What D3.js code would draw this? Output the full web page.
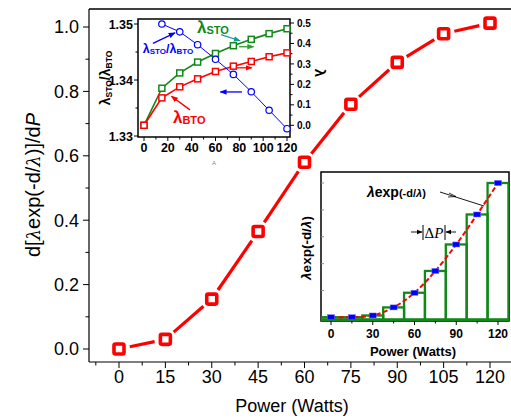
<!DOCTYPE html>
<html><head><meta charset="utf-8">
<script src="https://cdn.jsdelivr.net/npm/d3@7"></script>
<style>body{margin:0;background:#fff}svg{display:block}</style>
</head><body><svg id="c" width="511" height="419"></svg>
<script>
// ---------- data ----------
const power = [0,15,30,45,60,75,90,105,120];
const mainValues = [0.0,0.03,0.155,0.365,0.58,0.76,0.89,0.979,1.012];
const mainYTicks = [0,0.2,0.4,0.6,0.8,1.0];
const mainXTicks = [0,15,30,45,60,75,90,105,120];

const lambdaSTO = [0.0,0.181,0.256,0.309,0.351,0.389,0.420,0.448,0.472];
const lambdaBTO = [0.0,0.134,0.188,0.227,0.263,0.289,0.312,0.335,0.354];
const ratioPower = [15,30,45,60,75,90,105,120];
const ratio = [1.3500,1.3486,1.3463,1.3437,1.3410,1.3379,1.3346,1.3313];
const inset1XTicks = [0,20,40,60,80,100,120];
const inset1LeftTicks = [1.33,1.34,1.35];
const inset1RightTicks = [0,0.1,0.2,0.3,0.4,0.5];

const lexpValues = [0.002,0.002,0.015,0.075,0.184,0.346,0.543,0.766,1.0];
const deltaP = 15;
const inset2XTicks = [0,30,60,90,120];

// ---------- setup ----------
const svg = d3.select('#c');
const FONT = '"Liberation Sans", Arial, sans-serif';
const RED = '#ff0000', GREEN = '#12881a', BLUE = '#0000ff';

const defs = svg.append('defs');
function arrowMarker(id, color, size){
  defs.append('marker').attr('id', id).attr('viewBox','0 0 10 10').attr('refX',9).attr('refY',5)
    .attr('markerWidth', size).attr('markerHeight', size).attr('orient','auto-start-reverse')
    .attr('markerUnits','userSpaceOnUse')
    .append('path').attr('d','M0,1 L10,5 L0,9 z').attr('fill', color);
}
arrowMarker('aBlue', BLUE, 7);
arrowMarker('aTeal', '#119999', 7);
arrowMarker('aGreen', '#2aa02a', 7);
arrowMarker('aRed', RED, 7);
arrowMarker('aBlack', '#000', 6);

// ---------- main chart ----------
const x = d3.scaleLinear().domain([0,120]).range([119,490]);
const y = d3.scaleLinear().domain([0,1]).range([349,27]);
const L = 89, T = 9, B = 362, R = 515;

const g = svg.append('g');
g.append('line').attr('x1',L).attr('x2',L).attr('y1',T).attr('y2',B).attr('stroke','#000').attr('stroke-width',1.2);
g.append('line').attr('x1',L).attr('x2',R).attr('y1',B).attr('y2',B).attr('stroke','#000').attr('stroke-width',1.2);
g.append('line').attr('x1',L).attr('x2',R).attr('y1',T).attr('y2',T).attr('stroke','#000').attr('stroke-width',1.6);

// y ticks
d3.range(0, 11).forEach(i => {
  const v = i/10, major = i % 2 === 0;
  g.append('line').attr('x1',L).attr('x2',L-(major?6:3.5)).attr('y1',y(v)).attr('y2',y(v)).attr('stroke','#000');
});
g.selectAll('.ytl').data(mainYTicks).enter().append('text')
  .attr('x',79).attr('y',d=>y(d)).attr('dy','0.36em').attr('text-anchor','end')
  .attr('font-family',FONT).attr('font-size',18).text(d=>d.toFixed(1));
// x ticks
d3.range(-7.5, 128, 7.5).forEach(v => {
  const major = Math.abs(v % 15) < 1e-6;
  const px = x(v); if (px < L || px > 511) return;
  g.append('line').attr('x1',px).attr('x2',px).attr('y1',B).attr('y2',B+(major?6:3.5)).attr('stroke','#000');
});
g.selectAll('.xtl').data(mainXTicks).enter().append('text')
  .attr('x',d=>x(d)).attr('y',383).attr('text-anchor','middle')
  .attr('font-family',FONT).attr('font-size',18).text(d=>d);
// axis titles
g.append('text').attr('x',292).attr('y',412).attr('text-anchor','middle')
  .attr('font-family',FONT).attr('font-size',18).text('Power (Watts)');
const yt = g.append('text').attr('transform','translate(40,185) rotate(-90)').attr('text-anchor','middle')
  .attr('font-family',FONT).attr('font-size',20);
yt.append('tspan').text('d[');
yt.append('tspan').attr('font-style','italic').attr('font-family','"DejaVu Serif", serif').attr('font-size',18).text('λ');
yt.append('tspan').text('exp(-d/');
yt.append('tspan').attr('font-style','italic').attr('font-family','"DejaVu Serif", serif').attr('font-size',18).text('λ');
yt.append('tspan').text(')]/d');
yt.append('tspan').attr('font-style','italic').text('P');

// main line with gaps
const mainPts = power.map((p,i)=>[x(p), y(mainValues[i])]);
for (let i=0;i<mainPts.length-1;i++){
  const [x1,y1] = mainPts[i], [x2,y2] = mainPts[i+1];
  const dx = x2-x1, dy = y2-y1, len = Math.hypot(dx,dy), gap = 11;
  if (len <= 2*gap) continue;
  g.append('line').attr('x1',x1+dx/len*gap).attr('y1',y1+dy/len*gap)
    .attr('x2',x2-dx/len*gap).attr('y2',y2-dy/len*gap)
    .attr('stroke',RED).attr('stroke-width',3.2);
}
g.selectAll('.mm').data(power).enter().append('rect')
  .attr('x',(d)=>x(d)-5).attr('y',(d,i)=>y(mainValues[i])-5).attr('width',10).attr('height',10)
  .attr('rx',1.5).attr('fill','#fff').attr('stroke',RED).attr('stroke-width',3.6);

// ---------- inset 1 ----------
const xi = d3.scaleLinear().domain([0,120]).range([144,287]);
const yL = d3.scaleLinear().domain([1.33,1.35]).range([136,24]);
const yR = d3.scaleLinear().domain([0,0.5]).range([125.3,23]);
const i1 = svg.append('g');
const I1L = 138, I1R = 290, I1T = 19, I1B = 137;
i1.append('rect').attr('x',I1L).attr('y',I1T).attr('width',I1R-I1L).attr('height',I1B-I1T)
  .attr('fill','#fff').attr('stroke','#000').attr('stroke-width',1.5);
// left ticks
d3.range(0,5).forEach(i=>{
  const v = 1.33 + i*0.005, major = i%2===0;
  i1.append('line').attr('x1',I1L).attr('x2',I1L-(major?4:2.5)).attr('y1',yL(v)).attr('y2',yL(v)).attr('stroke','#000');
});
i1.selectAll('.lt').data(inset1LeftTicks).enter().append('text')
  .attr('x',I1L-5).attr('y',d=>yL(d)).attr('dy','0.36em').attr('text-anchor','end')
  .attr('font-family',FONT).attr('font-weight','bold').attr('font-size',12.5).text(d=>d.toFixed(2));
// right ticks
d3.range(0,11).forEach(i=>{
  const v = i*0.05, major = i%2===0;
  i1.append('line').attr('x1',I1R).attr('x2',I1R+(major?4:2.5)).attr('y1',yR(v)).attr('y2',yR(v)).attr('stroke','#000');
});
i1.selectAll('.rt').data(inset1RightTicks).enter().append('text')
  .attr('x',I1R+7).attr('y',d=>yR(d)).attr('dy','0.36em').attr('text-anchor','start')
  .attr('font-family',FONT).attr('font-weight','bold').attr('font-size',10).text(d=>d.toFixed(1));
// bottom ticks
d3.range(0,13).forEach(i=>{
  const v = i*10, major = i%2===0;
  i1.append('line').attr('x1',xi(v)).attr('x2',xi(v)).attr('y1',I1B).attr('y2',I1B+(major?4:2.5)).attr('stroke','#000');
});
i1.selectAll('.bt').data(inset1XTicks).enter().append('text')
  .attr('x',d=>xi(d)).attr('y',152).attr('text-anchor','middle')
  .attr('font-family',FONT).attr('font-weight','bold').attr('font-size',12.5).text(d=>d);
// axis titles
const lt = i1.append('text').attr('transform','translate(110,78) rotate(-90)').attr('text-anchor','middle')
  .attr('font-family',FONT).attr('font-weight','bold').attr('font-size',14);
lt.append('tspan').text('λ');
lt.append('tspan').attr('font-size',8.5).attr('dy',2).text('STO');
lt.append('tspan').attr('dy',-2).text('/λ');
lt.append('tspan').attr('font-size',8.5).attr('dy',2).text('BTO');
i1.append('text').attr('transform','translate(315,73) rotate(90)').attr('text-anchor','middle')
  .attr('font-family',FONT).attr('font-weight','bold').attr('font-size',15).text('λ');

// lines
const lineR = d3.line().x((d,i)=>xi(power[i])).y(d=>yR(d));
i1.append('path').attr('d',lineR(lambdaSTO)).attr('fill','none').attr('stroke',GREEN).attr('stroke-width',1.6);
i1.append('path').attr('d',lineR(lambdaBTO)).attr('fill','none').attr('stroke',RED).attr('stroke-width',1.6);
const lineL = d3.line().x((d,i)=>xi(ratioPower[i])).y(d=>yL(d));
i1.append('path').attr('d',lineL(ratio)).attr('fill','none').attr('stroke',BLUE).attr('stroke-width',1);
i1.selectAll('.sg').data(lambdaSTO).enter().append('rect')
  .attr('x',(d,i)=>xi(power[i])-3).attr('y',d=>yR(d)-3).attr('width',6).attr('height',6)
  .attr('fill','#fff').attr('stroke',GREEN).attr('stroke-width',1.5);
i1.selectAll('.sr').data(lambdaBTO).enter().append('rect')
  .attr('x',(d,i)=>xi(power[i])-3).attr('y',d=>yR(d)-3).attr('width',6).attr('height',6)
  .attr('fill','#fff').attr('stroke',RED).attr('stroke-width',1.5);
i1.selectAll('.cb').data(ratio).enter().append('circle')
  .attr('cx',(d,i)=>xi(ratioPower[i])).attr('cy',d=>yL(d)).attr('r',3.2)
  .attr('fill','#fff').attr('stroke',BLUE).attr('stroke-width',1.2);

// annotations inset 1
function arrow(gr, x1,y1,x2,y2,color,mk,w){
  gr.append('line').attr('x1',x1).attr('y1',y1).attr('x2',x2).attr('y2',y2)
    .attr('stroke',color).attr('stroke-width',w||1.3).attr('marker-end','url(#'+mk+')');
}
const t1 = i1.append('text').attr('x',xi(44.5)).attr('y',yR(0.452)).attr('fill',GREEN)
  .attr('font-family',FONT).attr('font-weight','bold').attr('font-size',17);
t1.append('tspan').text('λ');
t1.append('tspan').attr('font-size',11).attr('dy',1).text('STO');
const t2 = i1.append('text').attr('x',xi(24.3)).attr('y',yR(0.011)).attr('fill',RED)
  .attr('font-family',FONT).attr('font-weight','bold').attr('font-size',17);
t2.append('tspan').text('λ');
t2.append('tspan').attr('font-size',11).attr('dy',1).text('BTO');
const t3 = i1.append('text').attr('x',xi(-1)).attr('y',yR(0.354)).attr('fill',BLUE)
  .attr('font-family',FONT).attr('font-weight','bold').attr('font-size',12.5);
t3.append('tspan').text('λ');
t3.append('tspan').attr('font-size',8).attr('dy',1).text('STO');
t3.append('tspan').attr('dy',-1).text('/λ');
t3.append('tspan').attr('font-size',8).attr('dy',1).text('BTO');
arrow(i1, xi(7.5),yR(0.40), xi(26),yR(0.452), BLUE,'aBlue',1.3);
arrow(i1, xi(64.6),yR(0.443), xi(80.6),yR(0.413), '#119999','aTeal',1.2);
arrow(i1, xi(79.7),yR(0.384), xi(92),yR(0.384), '#2aa02a','aGreen',1.3);
arrow(i1, xi(78),yR(0.281), xi(90.5),yR(0.281), RED,'aRed',1.3);
arrow(i1, xi(82.2),yR(0.163), xi(64),yR(0.163), BLUE,'aBlue',1.3);
arrow(i1, xi(38.6),yR(0.075), xi(23),yR(0.142), RED,'aRed',1.5);
i1.append('text').attr('x',214).attr('y',165).attr('text-anchor','middle').attr('fill','#888')
  .attr('font-family',FONT).attr('font-size',6).text('A');

// ---------- inset 2 ----------
const xs = d3.scaleLinear().domain([0,120]).range([331,498]);
const ys = d3.scaleLinear().domain([0,1]).range([317.5,183]);
const i2 = svg.append('g');
const I2L = 321, I2R = 509, I2T = 172, I2B = 321;
i2.append('rect').attr('x',I2L).attr('y',I2T).attr('width',I2R-I2L).attr('height',I2B-I2T)
  .attr('fill','#fff').attr('stroke','#000').attr('stroke-width',1.5);
// ticks
d3.range(0,9).forEach(i=>{
  const v = i*15, major = i%2===0;
  i2.append('line').attr('x1',xs(v)).attr('x2',xs(v)).attr('y1',I2B).attr('y2',I2B+(major?4:2.5)).attr('stroke','#000');
});
d3.range(1,6).forEach(i=>{
  const v = i*0.2;
  i2.append('line').attr('x1',I2L).attr('x2',I2L+3).attr('y1',ys(v)).attr('y2',ys(v)).attr('stroke','#888');
});
i2.selectAll('.xt2').data(inset2XTicks).enter().append('text')
  .attr('x',d=>xs(d)).attr('y',338).attr('text-anchor','middle')
  .attr('font-family',FONT).attr('font-weight','bold').attr('font-size',12).text(d=>d);
i2.append('text').attr('x',413).attr('y',356).attr('text-anchor','middle')
  .attr('font-family',FONT).attr('font-weight','bold').attr('font-size',13).text('Power (Watts)');
const yt2 = i2.append('text').attr('transform','translate(311,248) rotate(-90)').attr('text-anchor','middle')
  .attr('font-family',FONT).attr('font-weight','bold').attr('font-size',13.5);
yt2.append('tspan').attr('font-style','italic').text('λ');
yt2.append('tspan').text('exp(-d/');
yt2.append('tspan').attr('font-style','italic').text('λ');
yt2.append('tspan').text(')');

// step boxes
const clipId = 'clip2';
defs.append('clipPath').attr('id',clipId).append('rect').attr('x',I2L).attr('y',I2T).attr('width',I2R-I2L).attr('height',I2B-I2T);
const boxes = i2.append('g').attr('clip-path','url(#'+clipId+')');
boxes.selectAll('.bx').data(lexpValues).enter().append('rect')
  .attr('x',(d,i)=>xs(power[i]-deltaP/2)).attr('y',d=>ys(d))
  .attr('width',xs(deltaP)-xs(0)).attr('height',d=>Math.max(0, ys(0)-ys(d)+2.5))
  .attr('fill','none').attr('stroke',GREEN).attr('stroke-width',2.3);
boxes.append('line').attr('x1',I2L).attr('x2',I2R).attr('y1',ys(0)+2).attr('y2',ys(0)+2).attr('stroke',GREEN).attr('stroke-width',2.3);
// dashed red curve
const curve = d3.line().x((d,i)=>xs(power[i])).y(d=>ys(d)).curve(d3.curveCatmullRom.alpha(0.5));
boxes.append('path').attr('d',curve(lexpValues)).attr('fill','none').attr('stroke',RED)
  .attr('stroke-width',2).attr('stroke-dasharray','5,2.5');
boxes.selectAll('.bm').data(lexpValues).enter().append('rect')
  .attr('x',(d,i)=>xs(power[i])-3.5).attr('y',d=>ys(d)-2.5).attr('width',7).attr('height',5)
  .attr('fill',BLUE).attr('stroke','#66f').attr('stroke-width',0.5);

// annotations inset 2
const t4 = i2.append('text').attr('x',367).attr('y',197)
  .attr('font-family',FONT).attr('font-weight','bold').attr('font-size',14);
t4.append('tspan').attr('font-style','italic').text('λ');
t4.append('tspan').text('exp');
t4.append('tspan').attr('font-size',11).text('(-d/');
t4.append('tspan').attr('font-size',11).attr('font-style','italic').text('λ');
t4.append('tspan').attr('font-size',11).text(')');
i2.append('line').attr('x1',440).attr('y1',192).attr('x2',484).attr('y2',206).attr('stroke','#000').attr('stroke-width',0.9);
i2.append('path').attr('d','M449,193 L456,196.5 L448,197').attr('fill','none').attr('stroke','#000').attr('stroke-width',0.8);
arrow(i2, 411,232, 422,232, '#000','aBlack',0.9);
arrow(i2, 456,232, 446,232, '#000','aBlack',0.9);
i2.append('line').attr('x1',423).attr('x2',423).attr('y1',225).attr('y2',240).attr('stroke','#000').attr('stroke-width',1);
i2.append('line').attr('x1',445).attr('x2',445).attr('y1',225).attr('y2',240).attr('stroke','#000').attr('stroke-width',1);
const t5 = i2.append('text').attr('x',434).attr('y',238).attr('text-anchor','middle')
  .attr('font-family','"Liberation Serif", serif').attr('font-size',15);
t5.append('tspan').text('Δ');
t5.append('tspan').attr('font-style','italic').text('P');
</script></body></html>
